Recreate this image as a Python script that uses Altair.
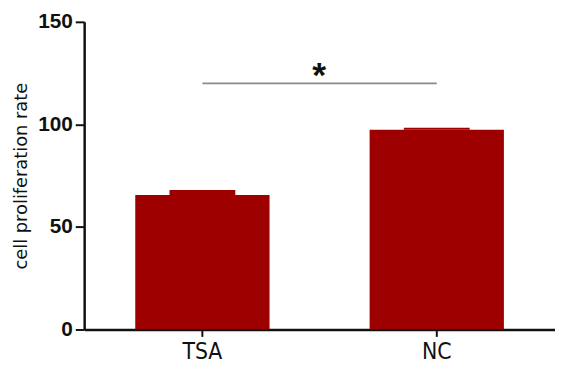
import altair as alt
import pandas as pd

groups = ["TSA", "NC"]
means = [65.6, 97.4]
uppers = [68.0, 98.4]
sig_y = [120.0]
sig_label = ["*"]

bar_color = "#9E0000"

df = pd.DataFrame({"group": groups, "mean": means, "upper": uppers})
sig_df = pd.DataFrame({"start": [groups[0]], "end": [groups[1]], "y": sig_y, "label": sig_label})

x_scale = alt.Scale(domain=groups, paddingInner=0.427, paddingOuter=0.218)
x_enc = alt.X(
    "group:N",
    scale=x_scale,
    axis=alt.Axis(
        title=None, labelAngle=0, labelFont="Liberation Sans Narrow, DejaVu Sans Condensed, sans-serif",
        labelFontSize=23, labelColor="#111", labelPadding=4, tickSize=7, tickWidth=2,
        tickColor="#111", domainColor="#111", domainWidth=2.5, grid=False,
    ),
)

y_scale = alt.Scale(domain=[0, 150], nice=False)
y_axis = alt.Axis(
    title="cell proliferation rate", values=[0, 50, 100, 150], titleFont="DejaVu Sans",
    titleFontSize=18, titleFontWeight="normal", titleColor="#111", titlePadding=7,
    labelFont="Liberation Sans", labelFontSize=21, labelFontWeight="bold", labelColor="#111",
    labelPadding=3, tickSize=9, tickWidth=2, tickColor="#111", domainColor="#111",
    domainWidth=2.5, grid=False,
)

bars = alt.Chart(df).mark_bar(color=bar_color).encode(
    x=x_enc,
    y=alt.Y("mean:Q", scale=y_scale, axis=y_axis),
)

caps = alt.Chart(df).mark_bar(color=bar_color, width=alt.RelativeBandSize(0.49)).encode(
    x=alt.X("group:N", scale=x_scale),
    y=alt.Y("mean:Q", scale=y_scale),
    y2="upper:Q",
)

rule = alt.Chart(sig_df).mark_rule(color="#8a8a8a", strokeWidth=1.6).encode(
    x=alt.X("start:N", scale=x_scale),
    x2="end:N",
    y=alt.Y("y:Q", scale=y_scale),
)

star = alt.Chart(sig_df).mark_text(
    font="Liberation Sans", fontSize=36, fontWeight="bold", baseline="alphabetic",
    dx=118, dy=4, color="#111"
).encode(
    x=alt.X("start:N", scale=x_scale),
    y=alt.Y("y:Q", scale=y_scale),
    text="label:N",
)

chart = (
    alt.layer(bars, caps, rule, star)
    .properties(
        width=476, height=311,
        background="white",
        autosize=alt.AutoSizeParams(type="none"),
        padding={"left": 77, "top": 12, "right": 0, "bottom": 40},
    )
    .configure_view(strokeWidth=0, stroke="transparent")
)

chart.save("out.html", embed_options={"renderer": "svg", "actions": False})
